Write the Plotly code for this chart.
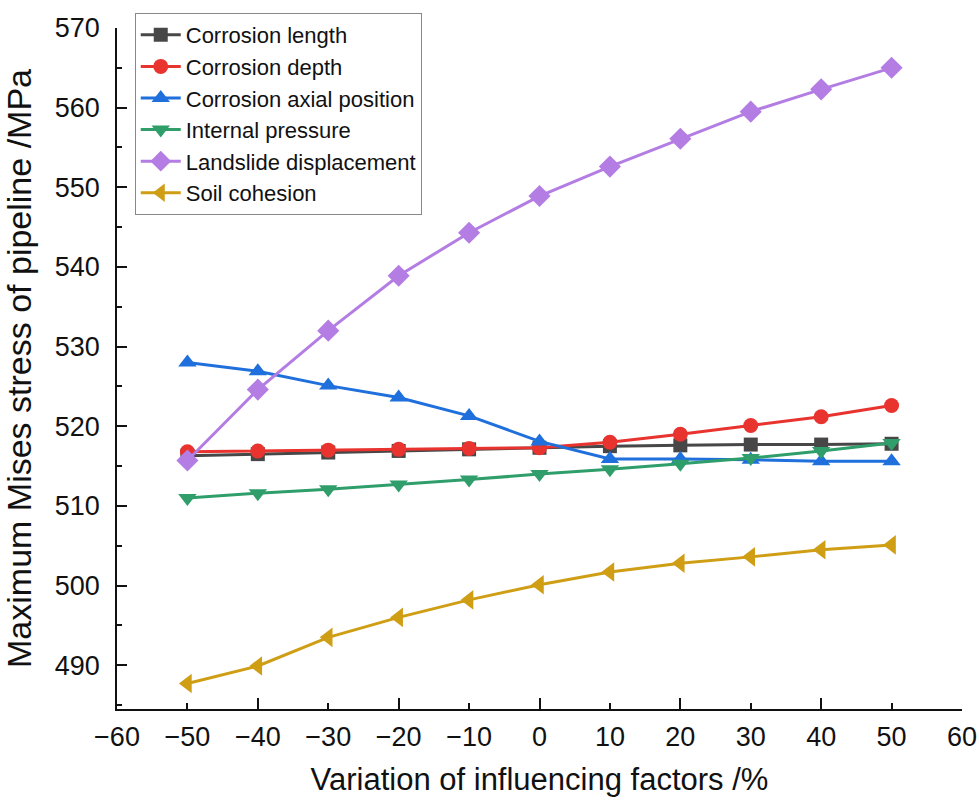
import plotly.graph_objects as go

x_vals = [-50, -40, -30, -20, -10, 0, 10, 20, 30, 40, 50]

corrosion_length = [516.3, 516.5, 516.7, 516.9, 517.1, 517.3, 517.5, 517.6, 517.7, 517.7, 517.8]
corrosion_depth = [516.8, 516.9, 517.0, 517.1, 517.2, 517.3, 518.0, 519.0, 520.1, 521.2, 522.6]
corrosion_axial = [528.0, 526.9, 525.1, 523.6, 521.3, 518.1, 515.9, 515.9, 515.8, 515.6, 515.6]
internal_pressure = [511.0, 511.6, 512.1, 512.7, 513.3, 514.0, 514.6, 515.3, 516.0, 516.9, 517.9]
landslide_disp = [515.7, 524.6, 532.0, 538.9, 544.3, 548.9, 552.6, 556.1, 559.5, 562.3, 565.0]
soil_cohesion = [487.7, 489.9, 493.5, 496.0, 498.2, 500.1, 501.7, 502.8, 503.6, 504.5, 505.1]

series = [
    ("Corrosion length", corrosion_length, "#474747", "square", 14),
    ("Corrosion depth", corrosion_depth, "#e8332f", "circle", 15),
    ("Corrosion axial position", corrosion_axial, "#1f6fdc", "triangle-up", 16),
    ("Internal pressure", internal_pressure, "#2f9e6a", "triangle-down", 16),
    ("Landslide displacement", landslide_disp, "#b37de3", "diamond", 17),
    ("Soil cohesion", soil_cohesion, "#cf9e14", "triangle-left", 17),
]

fig = go.Figure()
for name, vals, color, sym, size in series:
    fig.add_trace(go.Scatter(
        x=x_vals, y=vals, name=name, mode="lines+markers",
        line=dict(color=color, width=3),
        marker=dict(symbol=sym, size=size, color=color),
    ))

# overlay axis for longer major ticks at every 20
fig.add_trace(go.Scatter(x=[0], y=[500], xaxis="x2", showlegend=False,
                         mode="markers", marker=dict(opacity=0), hoverinfo="skip"))

font_family = "Liberation Sans, Arial, sans-serif"
fig.update_layout(
    width=979, height=805,
    margin=dict(l=117, r=17, t=28, b=96),
    paper_bgcolor="white", plot_bgcolor="white",
    font=dict(family=font_family, color="#111111"),
    xaxis=dict(
        range=[-60, 60], tickmode="linear", tick0=-60, dtick=10,
        ticks="inside", ticklen=6, tickwidth=1.5, tickcolor="#111",
        ticklabelstandoff=3, automargin=False,
        showline=True, linecolor="#111", linewidth=1.5,
        showgrid=False, zeroline=False,
        tickfont=dict(size=27, family=font_family),
        title=dict(text="Variation of influencing factors /%", font=dict(size=31, family=font_family), standoff=17),
    ),
    xaxis2=dict(
        range=[-60, 60], overlaying="x", anchor="y", side="bottom",
        tickmode="linear", tick0=-60, dtick=20, automargin=False,
        ticks="inside", ticklen=11, tickwidth=1.5, tickcolor="#111",
        showticklabels=False, showgrid=False, zeroline=False, showline=False,
    ),
    yaxis=dict(
        range=[484.5, 570], tickmode="linear", tick0=490, dtick=10,
        ticks="inside", ticklen=10, tickwidth=1.5, tickcolor="#111",
        ticklabelstandoff=10, automargin=False,
        minor=dict(dtick=5, tick0=485, ticks="inside", ticklen=5, tickwidth=1.5, tickcolor="#111"),
        showline=True, linecolor="#111", linewidth=1.5,
        showgrid=False, zeroline=False,
        tickfont=dict(size=27, family=font_family),
        title=dict(text="Maximum Mises stress of pipeline /MPa", font=dict(size=34, family=font_family), standoff=13),
    ),
    legend=dict(
        x=0.021, y=1.022, xanchor="left", yanchor="top",
        bgcolor="white", bordercolor="#888", borderwidth=1,
        font=dict(size=22, family=font_family),
        tracegroupgap=0, itemwidth=40,
    ),
    showlegend=True,
)

fig.write_html("out.html")
